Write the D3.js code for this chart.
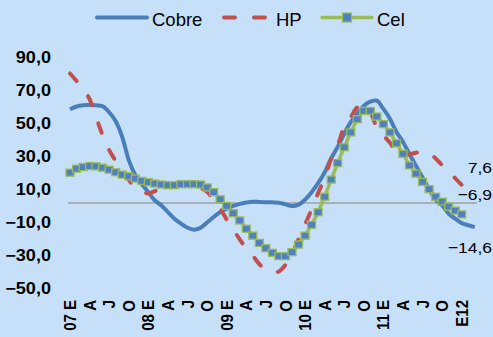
<!DOCTYPE html>
<html><head><meta charset="utf-8">
<script src="https://cdn.jsdelivr.net/npm/d3@7"></script>
<style>html,body{margin:0;padding:0;background:#C6E0F9;} svg{display:block;}</style>
</head><body><svg id="c" width="493" height="337"></svg>
<script>
// categories: months Jan 2007 .. Mar 2012
const categories = [
 "2007-01","2007-02","2007-03","2007-04","2007-05","2007-06","2007-07","2007-08","2007-09","2007-10","2007-11","2007-12",
 "2008-01","2008-02","2008-03","2008-04","2008-05","2008-06","2008-07","2008-08","2008-09","2008-10","2008-11","2008-12",
 "2009-01","2009-02","2009-03","2009-04","2009-05","2009-06","2009-07","2009-08","2009-09","2009-10","2009-11","2009-12",
 "2010-01","2010-02","2010-03","2010-04","2010-05","2010-06","2010-07","2010-08","2010-09","2010-10","2010-11","2010-12",
 "2011-01","2011-02","2011-03","2011-04","2011-05","2011-06","2011-07","2011-08","2011-09","2011-10","2011-11","2011-12",
 "2012-01","2012-02","2012-03"];
const tickLabels = ["07 E","A","J","O","08 E","A","J","O","09 E","A","J","O","10 E","A","J","O","11 E","A","J","O","E12"];
const yTicks = [-50,-30,-10,10,30,50,70,90];
const cobre = [56.8,58.5,59.3,59.4,59.2,58.6,55,49.5,40,26,17,11.5,6.5,1.5,-1.5,-5.5,-9.5,-12.5,-15,-16.2,
 -15,-11.8,-8.5,-5.5,-3.5,-1.8,-0.5,0.3,0.8,0.6,0.5,0.4,0.2,-0.8,-1.8,-1,2,6.5,12,18.5,
 27,34,42,49,54,59,61.5,62,57,51,43,37,29.5,22.5,15.5,8.5,2,-1.5,-6.5,-9.5,-12.2,-13.5,-14.6];
const hp = [78.5,74,69,63,52,41,32,25.5,19.5,14,9.2,7,5.8,7.2,9,9.5,10,10.5,10.5,10,
 9,6.8,1.5,-3.5,-10,-16,-22,-27.5,-32,-37,-40.5,-42,-41.5,-37.5,-31,-22,-13,-4,6,15,
 27,35,46,52,58,59.5,55,46,41,36.5,31,29,29.5,30.5,31,30.5,27,23,19.5,15,11,7.6];
const cel = [18.4,20.8,21.8,22.4,22.2,21.4,20.2,18.6,17.2,16.2,14.8,13.4,12.6,11.8,11.2,10.8,10.8,11.4,11.4,11.4,
 11.2,9.4,6.6,2.2,-1.8,-6.2,-10.6,-15.6,-19.8,-24.2,-27.4,-30.2,-32.2,-32.2,-29.8,-25.2,-19.8,-13.2,-5.6,3.8,
 14.2,24.2,33.8,42.8,50.8,55.8,55.8,52.4,47.8,42.8,36.2,29.8,22.8,17.8,12.8,8.4,3.8,0.8,-2.2,-4.6,-6.9];
const seriesNames = ["Cobre","HP","Cel"];
const colors = {Cobre:"#4A7EBB", HP:"#C0504D", Cel:"#9BBB59", marker:"#4F81BD", zero:"#A0A0A0"};

const svg = d3.select("#c");
const x = d3.scalePoint().domain(categories).range([70, 474.8]);
const y = d3.scaleLinear().domain([-50, 90]).range([285.5, 54.5]);
const fmt = v => d3.format(".1f")(v).replace(".", ",");
const SX = 1.13;

// zero line
svg.append("line").attr("x1", 68).attr("x2", 477).attr("y1", y(0)).attr("y2", y(0))
  .attr("stroke", colors.zero).attr("stroke-width", 1.5);

// y axis
const ya = svg.append("g").attr("transform", "translate(51,2)")
  .call(d3.axisLeft(y).tickValues(yTicks).tickSize(0).tickPadding(0).tickFormat(fmt));
ya.select(".domain").remove();
ya.selectAll("text").attr("x", 0).attr("dy", "0.35em").attr("text-anchor", "end")
  .attr("transform", `scale(${SX},1)`)
  .style("font-family", "Liberation Sans, Arial, sans-serif").style("font-size", "16px")
  .style("font-weight", "bold").attr("fill", "#000");

// x axis
const tickCats = tickLabels.map((t, i) => categories[i * 3]);
const xa = svg.append("g").attr("transform", "translate(-0.5,300)")
  .call(d3.axisBottom(x).tickValues(tickCats).tickSize(0)
    .tickFormat(d => tickLabels[tickCats.indexOf(d)]));
xa.select(".domain").remove();
xa.selectAll("text").attr("x", 0).attr("y", 0).attr("dy", "0.36em").attr("text-anchor", "end")
  .attr("transform", `scale(${SX},1) rotate(-90)`)
  .style("font-family", "Liberation Sans, Arial, sans-serif").style("font-size", "15px")
  .style("font-weight", "bold").attr("fill", "#000");

const line = d3.line().x((d, i) => x(categories[i])).y(d => y(d));
// Cobre
svg.append("path").datum(cobre)
  .attr("d", line.curve(d3.curveCatmullRom.alpha(0.5)))
  .attr("fill", "none").attr("stroke", colors.Cobre).attr("stroke-width", 4).attr("stroke-linejoin", "round");
// HP
svg.append("path").datum(hp)
  .attr("d", line.curve(d3.curveCatmullRom.alpha(0.5)))
  .attr("fill", "none").attr("stroke", colors.HP).attr("stroke-width", 4)
  .attr("stroke-dasharray", "10,19").attr("stroke-linecap", "round");
// Cel
svg.append("path").datum(cel)
  .attr("d", line.curve(d3.curveLinear))
  .attr("fill", "none").attr("stroke", colors.Cel).attr("stroke-width", 3.5);
svg.append("g").selectAll("rect").data(cel).join("rect")
  .attr("x", (d, i) => x(categories[i]) - 4).attr("y", d => y(d) - 3.5)
  .attr("width", 8).attr("height", 7)
  .attr("fill", colors.marker).attr("stroke", colors.Cel).attr("stroke-width", 1.3);

// end data labels
const endLabels = [
  {v: hp[hp.length - 1], dy: -23},
  {v: cel[cel.length - 1], dy: -20},
  {v: cobre[cobre.length - 1], dy: 20}
];
svg.append("g").selectAll("text").data(endLabels).join("text")
  .attr("transform", d => `translate(492,${y(d.v) + d.dy}) scale(${SX},1)`)
  .attr("dy", "0.35em").attr("text-anchor", "end")
  .style("font-family", "Liberation Sans, Arial, sans-serif").style("font-size", "15.5px")
  .attr("fill", "#000").text(d => fmt(d.v));

// legend
const lg = svg.append("g").style("font-family", "Liberation Sans, Arial, sans-serif").style("font-size", "18.5px");
const ly = 17.5;
lg.append("line").attr("x1", 97).attr("x2", 147).attr("y1", ly).attr("y2", ly)
  .attr("stroke", colors.Cobre).attr("stroke-width", 4).attr("stroke-linecap", "round");
lg.append("text").attr("x", 152).attr("y", 26).text(seriesNames[0]);
lg.append("line").attr("x1", 224).attr("x2", 267).attr("y1", ly).attr("y2", ly)
  .attr("stroke", colors.HP).attr("stroke-width", 4).attr("stroke-linecap", "round")
  .attr("stroke-dasharray", "11,19");
lg.append("text").attr("x", 276).attr("y", 26).text(seriesNames[1]);
lg.append("line").attr("x1", 322).attr("x2", 372).attr("y1", ly).attr("y2", ly)
  .attr("stroke", colors.Cel).attr("stroke-width", 3.5).attr("stroke-linecap", "round");
lg.append("rect").attr("x", 342.5).attr("y", ly - 4.5).attr("width", 9).attr("height", 9)
  .attr("fill", colors.marker).attr("stroke", colors.Cel).attr("stroke-width", 1.3);
lg.append("text").attr("x", 377).attr("y", 26).text(seriesNames[2]);
</script></body></html>
